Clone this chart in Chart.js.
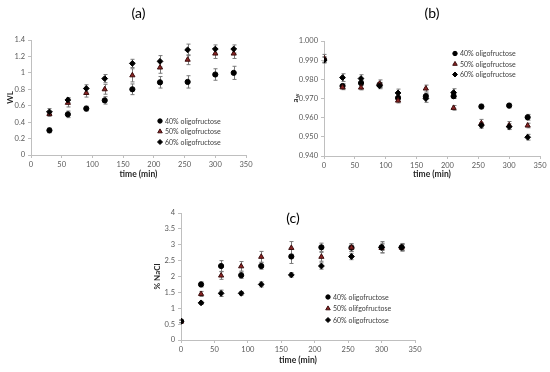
<!DOCTYPE html>
<html>
<head>
<meta charset="utf-8">
<title>Osmotic dehydration kinetics</title>
<script src="https://cdn.jsdelivr.net/npm/chart.js@4.4.1/dist/chart.umd.min.js"></script>
<style>
  html, body { margin: 0; padding: 0; background: #fff; }
  #wrap { position: relative; width: 550px; height: 372px; overflow: hidden; }
  canvas { position: absolute; }
</style>
</head>
<body>
<div id="wrap">
  <canvas id="chartA" width="275" height="186" style="left:0;top:0"></canvas>
  <canvas id="chartB" width="275" height="186" style="left:275px;top:0"></canvas>
  <canvas id="chartC" width="310" height="186" style="left:120px;top:186px"></canvas>
</div>
<script>
// ---- data ----
const timeA = [30, 60, 90, 120, 165, 210, 255, 300, 330];
const timeBC = [0, 30, 60, 90, 120, 165, 210, 255, 300, 330];
const xTicks = [0, 50, 100, 150, 200, 250, 300, 350];

// (a) weight loss
const wl40 = [0.30, 0.495, 0.565, 0.665, 0.80, 0.885, 0.89, 0.98, 1.00];
const wl50 = [0.50, 0.635, 0.755, 0.80, 0.97, 1.065, 1.16, 1.235, 1.235];
const wl60 = [0.525, 0.67, 0.81, 0.93, 1.115, 1.14, 1.28, 1.29, 1.29];
const wl40Err = [0.03, 0.04, 0.03, 0.045, 0.065, 0.07, 0.075, 0.07, 0.08];
const wl50Err = [0.03, 0.05, 0.05, 0.06, 0.08, 0.07, 0.06, 0.06, 0.06];
const wl60Err = [0.04, 0.03, 0.045, 0.05, 0.05, 0.07, 0.07, 0.05, 0.05];
const wlTicks = [0, 0.2, 0.4, 0.6, 0.8, 1, 1.2, 1.4];

// (b) water activity
const aw40 = [0.9903, 0.9765, 0.9781, 0.9772, 0.9703, 0.9712, 0.9712, 0.9658, 0.9663, 0.9602];
const aw50 = [0.9910, 0.9758, 0.9757, 0.9777, 0.9689, 0.9752, 0.9651, 0.9571, 0.9560, 0.9559];
const aw60 = [0.9900, 0.9809, 0.9804, 0.9766, 0.9729, 0.9700, 0.9731, 0.9560, 0.9553, 0.9498];
const aw40Err = [0.0015, 0.0012, 0.0012, 0.0012, 0.0012, 0.0015, 0.0012, 0.0012, 0.0012, 0.0015];
const aw50Err = [0.0020, 0.0012, 0.0012, 0.0020, 0.0012, 0.0018, 0.0012, 0.0020, 0.0020, 0.0012];
const aw60Err = [0.0015, 0.0020, 0.0020, 0.0015, 0.0020, 0.0020, 0.0020, 0.0015, 0.0015, 0.0015];
const awTicks = [0.94, 0.95, 0.96, 0.97, 0.98, 0.99, 1.0];

// (c) salt content
const nacl40 = [0.59, 1.75, 2.33, 2.04, 2.33, 2.63, 2.92, 2.91, 2.92, 2.92];
const nacl50 = [0.58, 1.45, 2.03, 2.32, 2.62, 2.90, 2.62, 2.91, 2.90, 2.91];
const nacl60 = [0.59, 1.17, 1.47, 1.47, 1.75, 2.05, 2.33, 2.63, 2.92, 2.92];
const nacl40Err = [0.04, 0.08, 0.17, 0.10, 0.10, 0.22, 0.13, 0.12, 0.18, 0.12];
const nacl50Err = [0.04, 0.08, 0.12, 0.15, 0.17, 0.20, 0.14, 0.12, 0.15, 0.10];
const nacl60Err = [0.04, 0.05, 0.10, 0.06, 0.08, 0.07, 0.10, 0.10, 0.10, 0.10];
const naclTicks = [0, 0.5, 1, 1.5, 2, 2.5, 3, 3.5, 4];

const labelsAB = ['40% oligofructose', '50% oligofructose', '60% oligofructose'];
const labelsC = ['40% oligofructose', '50% olifgofructose', '60% oligofructose'];

// ---- look ----
const FONT = 'Lato, "Open Sans", sans-serif';
const TICK_COLOR = '#595959';
const AXIS_COLOR = '#bfbfbf';
const TEXT_COLOR = '#262626';

const markerStyles = [
  { pointStyle: 'circle', radius: 2.6, backgroundColor: '#000', borderColor: '#000' },
  { pointStyle: 'triangle', radius: 3, backgroundColor: '#8b2424', borderColor: '#3b0d0d' },
  { pointStyle: 'rectRot', radius: 2.9, backgroundColor: '#000', borderColor: '#000' }
];

function toPoints(xs, ys) {
  return xs.map((x, i) => ({ x: x, y: ys[i] }));
}

// error bars drawn under the markers, through the y scale
const errorBars = {
  id: 'errorBars',
  beforeDatasetsDraw(chart) {
    const ctx = chart.ctx;
    const yScale = chart.scales.y;
    ctx.save();
    ctx.strokeStyle = '#7a7a7a';
    ctx.lineWidth = 1;
    chart.data.datasets.forEach((ds, i) => {
      const meta = chart.getDatasetMeta(i);
      meta.data.forEach((pt, j) => {
        const v = ds.data[j].y;
        const e = ds.errors[j];
        const top = yScale.getPixelForValue(v + e);
        const bot = yScale.getPixelForValue(v - e);
        const x = Math.round(pt.x) + 0.5;
        ctx.beginPath();
        ctx.moveTo(x, top); ctx.lineTo(x, bot);
        ctx.moveTo(x - 2, top); ctx.lineTo(x + 2, top);
        ctx.moveTo(x - 2, bot); ctx.lineTo(x + 2, bot);
        ctx.stroke();
      });
    });
    ctx.restore();
  }
};

// panel letter and the in-plot legend
const panelDecor = {
  id: 'panelDecor',
  afterDraw(chart, args, opts) {
    const ctx = chart.ctx;
    const area = chart.chartArea;
    ctx.save();
    ctx.fillStyle = '#000';
    ctx.font = '14px ' + FONT;
    ctx.textAlign = 'center';
    ctx.textBaseline = 'middle';
    ctx.fillText(opts.letter, (area.left + area.right) / 2 + (opts.letterDx || 0), opts.letterY);

    ctx.font = '7px ' + FONT;
    ctx.textAlign = 'left';
    opts.legend.forEach((txt, i) => {
      const y = opts.legendY + i * opts.legendGap;
      const st = markerStyles[i];
      ctx.fillStyle = st.backgroundColor;
      ctx.strokeStyle = st.borderColor;
      ctx.lineWidth = 1;
      Chart.helpers.drawPoint(ctx, { pointStyle: st.pointStyle, radius: st.radius - 0.4, rotation: 0, borderWidth: 1 }, opts.legendX, y);
      ctx.fillStyle = '#404040';
      ctx.fillText(txt, opts.legendX + 5, y + 0.5);
    });

    if (opts.awLabel) {
      ctx.translate(opts.awLabel.x, (area.top + area.bottom) / 2);
      ctx.rotate(-Math.PI / 2);
      ctx.fillStyle = TEXT_COLOR;
      ctx.font = 'bold 8px ' + FONT;
      ctx.textAlign = 'left';
      ctx.fillText('a', -4, 0);
      ctx.font = 'bold 5.5px ' + FONT;
      ctx.fillText('w', 0.5, 2);
    }
    ctx.restore();
  }
};

function makeChart(id, cfg) {
  const datasets = cfg.series.map((ys, i) => Object.assign({
    label: cfg.legend[i],
    data: toPoints(cfg.x, ys),
    errors: cfg.errors[i],
    showLine: false,
    borderWidth: 1,
    pointRadius: markerStyles[i].radius,
    pointStyle: markerStyles[i].pointStyle,
    backgroundColor: markerStyles[i].backgroundColor,
    borderColor: markerStyles[i].borderColor,
    order: 2 - i
  }));

  return new Chart(document.getElementById(id), {
    type: 'scatter',
    data: { datasets: datasets },
    plugins: [errorBars, panelDecor],
    options: {
      responsive: false,
      animation: false,
      events: [],
      layout: { padding: cfg.padding },
      plugins: {
        legend: { display: false },
        tooltip: { enabled: false },
        panelDecor: cfg.decor
      },
      scales: {
        x: {
          type: 'linear',
          min: 0, max: 350,
          afterBuildTicks: s => { s.ticks = xTicks.map(v => ({ value: v })); },
          afterFit: s => { s.height = cfg.xHeight; },
          grid: { drawOnChartArea: false, drawTicks: true, tickLength: 3, color: AXIS_COLOR },
          border: { color: AXIS_COLOR },
          ticks: { padding: 2, color: TICK_COLOR, font: { family: FONT, size: 7.5 } },
          title: {
            display: true, text: 'time (min)', color: TEXT_COLOR,
            font: { family: FONT, size: 8.5, weight: 'bold' },
            padding: { top: 2, bottom: 7 }
          }
        },
        y: {
          type: 'linear',
          min: cfg.yTicks[0], max: cfg.yTicks[cfg.yTicks.length - 1],
          afterBuildTicks: s => { s.ticks = cfg.yTicks.map(v => ({ value: v })); },
          afterFit: s => { s.width = cfg.yWidth; },
          grid: { drawOnChartArea: false, drawTicks: true, tickLength: 3, color: AXIS_COLOR },
          border: { color: AXIS_COLOR },
          ticks: {
            padding: 3, color: TICK_COLOR, font: { family: FONT, size: 7.5 },
            callback: cfg.yFormat
          },
          title: {
            display: !!cfg.yTitle, text: cfg.yTitle || '', color: TEXT_COLOR,
            font: { family: FONT, size: 8, weight: 'bold' },
            padding: { top: cfg.yTitlePad || 4, bottom: 2 }
          }
        }
      }
    }
  });
}

makeChart('chartA', {
  x: timeA,
  series: [wl40, wl50, wl60],
  errors: [wl40Err, wl50Err, wl60Err],
  legend: labelsAB,
  yTicks: wlTicks,
  yFormat: v => String(v),
  yTitle: 'WL',
  yTitlePad: 6,
  padding: { left: 0, top: 40, right: 29, bottom: 0 },
  yWidth: 31,
  xHeight: 31,
  decor: { letter: '(a)', letterY: 13, legend: labelsAB, legendX: 160, legendY: 121, legendGap: 10.5 }
});

makeChart('chartB', {
  x: timeBC,
  series: [aw40, aw50, aw60],
  errors: [aw40Err, aw50Err, aw60Err],
  legend: labelsAB,
  yTicks: awTicks,
  yFormat: v => Number(v).toFixed(3),
  yTitle: null,
  padding: { left: 0, top: 41, right: 10, bottom: 0 },
  yWidth: 49,
  xHeight: 30,
  decor: { letter: '(b)', letterY: 13, legend: labelsAB, legendX: 180, legendY: 53.5, legendGap: 10.5, awLabel: { x: 20 } }
});

makeChart('chartC', {
  x: timeBC,
  series: [nacl40, nacl50, nacl60],
  errors: [nacl40Err, nacl50Err, nacl60Err],
  legend: labelsC,
  yTicks: naclTicks,
  yFormat: v => String(v),
  yTitle: '% NaCl',
  yTitlePad: 5,
  padding: { left: 28, top: 27, right: 15, bottom: 0 },
  yWidth: 33,
  xHeight: 32,
  decor: { letter: '(c)', letterDx: -5, letterY: 32, legend: labelsC, legendX: 208, legendY: 111, legendGap: 11.5 }
});
</script>
</body>
</html>
